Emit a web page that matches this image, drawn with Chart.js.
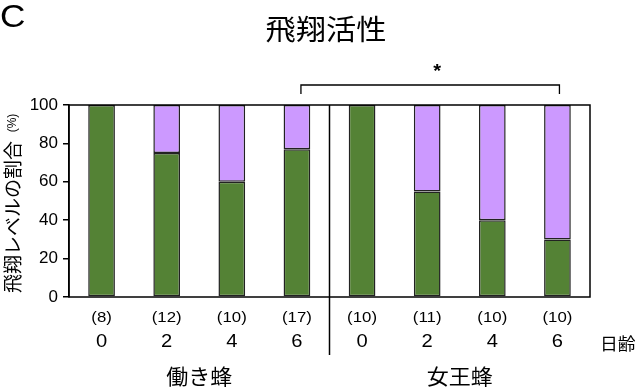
<!DOCTYPE html>
<html>
<head>
<meta charset="utf-8">
<script src="https://cdn.jsdelivr.net/npm/chart.js@4.4.1/dist/chart.umd.min.js"></script>
<style>
  html, body { margin: 0; padding: 0; background: #fff; }
  #wrap { width: 639px; height: 388px; position: relative; }
</style>
</head>
<body>
<div id="wrap"><canvas id="myChart" width="639" height="388"></canvas></div>
<script>
// 飛翔活性のデータ
const dias = ['0', '2', '4', '6', '0', '2', '4', '6'];
const nMuestras = ['(8)', '(12)', '(10)', '(17)', '(10)', '(11)', '(10)', '(10)'];
const grupos = ['働き蜂', '女王蜂'];
// 緑 = 下の部分, 紫 = 上の部分 (%)
const verde = [100, 75, 60, 77, 100, 55, 40, 30];
const morado = [0, 25, 40, 23, 0, 45, 60, 70];
const yTicks = [0, 20, 40, 60, 80, 100];

const fontLat = '"Liberation Sans", Arial, sans-serif';
const fontJp = '"Noto Sans CJK JP", sans-serif';

// texto un poco estirado en horizontal, como en la figura original
function texto(ctx, t, x, y, font, align, sx) {
  ctx.save();
  ctx.translate(x, y);
  ctx.scale(sx || 1.12, 1);
  ctx.font = font;
  ctx.textAlign = align || 'center';
  ctx.fillText(t, 0, 0);
  ctx.restore();
}

// dibujar textos extra, caja, divisor y corchete
const extras = {
  id: 'extras',
  afterDraw(chart) {
    const ctx = chart.ctx;
    const a = chart.chartArea;
    const xs = chart.scales.x;
    ctx.save();

    // caja del area
    ctx.strokeStyle = '#000';
    ctx.lineWidth = 1.5;
    ctx.strokeRect(a.left, a.top, a.right - a.left, a.bottom - a.top);

    // divisor entre grupos
    const xDiv = (xs.getPixelForValue(3) + xs.getPixelForValue(4)) / 2;
    ctx.beginPath();
    ctx.moveTo(xDiv, a.top);
    ctx.lineTo(xDiv, 355);
    ctx.stroke();

    // etiquetas del eje x
    ctx.fillStyle = '#000';
    ctx.textBaseline = 'middle';
    for (let i = 0; i < dias.length; i++) {
      const x = xs.getPixelForValue(i);
      texto(ctx, nMuestras[i], x, 318, '15px ' + fontLat);
      texto(ctx, dias[i], x, 342, '18px ' + fontLat);
    }
    texto(ctx, '日齢', 600, 344, '17px ' + fontJp, 'left', 1.05);

    // grupos
    const g1 = (xs.getPixelForValue(0) + xs.getPixelForValue(3)) / 2;
    const g2 = (xs.getPixelForValue(4) + xs.getPixelForValue(7)) / 2;
    texto(ctx, grupos[0], g1, 376, '21px ' + fontJp, 'center', 1.05);
    texto(ctx, grupos[1], g2, 376, '21px ' + fontJp, 'center', 1.05);

    // titulo eje y
    ctx.save();
    ctx.translate(13, (a.top + a.bottom) / 2 + 8);
    ctx.rotate(-Math.PI / 2);
    ctx.font = '19px ' + fontJp;
    ctx.textAlign = 'center';
    ctx.fillText('飛翔レベルの割合', -8, 0);
    ctx.font = '12px ' + fontLat;
    ctx.fillText('(%)', 86, 0);
    ctx.restore();

    // corchete de significancia
    const bx1 = xs.getPixelForValue(3) + 4;
    const bx2 = xs.getPixelForValue(7) + 2;
    ctx.lineWidth = 1.3;
    ctx.beginPath();
    ctx.moveTo(bx1, 94);
    ctx.lineTo(bx1, 85);
    ctx.lineTo(bx2, 85);
    ctx.lineTo(bx2, 94);
    ctx.stroke();
    texto(ctx, '*', (bx1 + bx2) / 2 + 7, 72, 'bold 18px ' + fontLat);

    // titulo y letra
    texto(ctx, '飛翔活性', 326, 29, '28px ' + fontJp, 'center', 1.08);
    texto(ctx, 'C', 0, 18, '32px ' + fontLat, 'left', 1.1);

    ctx.restore();
  }
};

// sin borde para segmentos de valor 0
const borde = c => (c.raw === 0 ? 0 : 1.5);

const data = {
  labels: dias.map((d, i) => i),
  datasets: [
    {
      label: '緑',
      data: verde,
      backgroundColor: '#548235',
      borderColor: '#222',
      borderWidth: borde,
      borderSkipped: false,
    },
    {
      label: '紫',
      data: morado,
      backgroundColor: '#CC99FF',
      borderColor: '#222',
      borderWidth: borde,
      borderSkipped: false,
    },
  ],
};

const config = {
  type: 'bar',
  data: data,
  options: {
    responsive: false,
    animation: false,
    devicePixelRatio: 1,
    categoryPercentage: 1,
    barPercentage: 0.41,
    layout: { padding: { top: 105, right: 49, left: 0, bottom: 0 } },
    plugins: {
      legend: { display: false },
      tooltip: { enabled: false },
    },
    scales: {
      x: {
        stacked: true,
        grid: { display: false },
        border: { display: false },
        ticks: { display: false },
        afterFit(scale) { scale.height = 91; },
      },
      y: {
        stacked: true,
        min: 0,
        max: 100,
        afterBuildTicks(scale) { scale.ticks = yTicks.map(v => ({ value: v })); },
        afterFit(scale) { scale.width = 69; },
        grid: {
          drawOnChartArea: false,
          drawTicks: true,
          tickLength: 6,
          color: '#000',
          lineWidth: 1.5,
        },
        border: { display: true, color: '#000', width: 1.5 },
        ticks: {
          color: '#000',
          padding: 5,
          font: { family: fontLat, size: 17 },
        },
      },
    },
  },
  plugins: [extras],
};

const myChart = new Chart(document.getElementById('myChart'), config);
</script>
</body>
</html>
